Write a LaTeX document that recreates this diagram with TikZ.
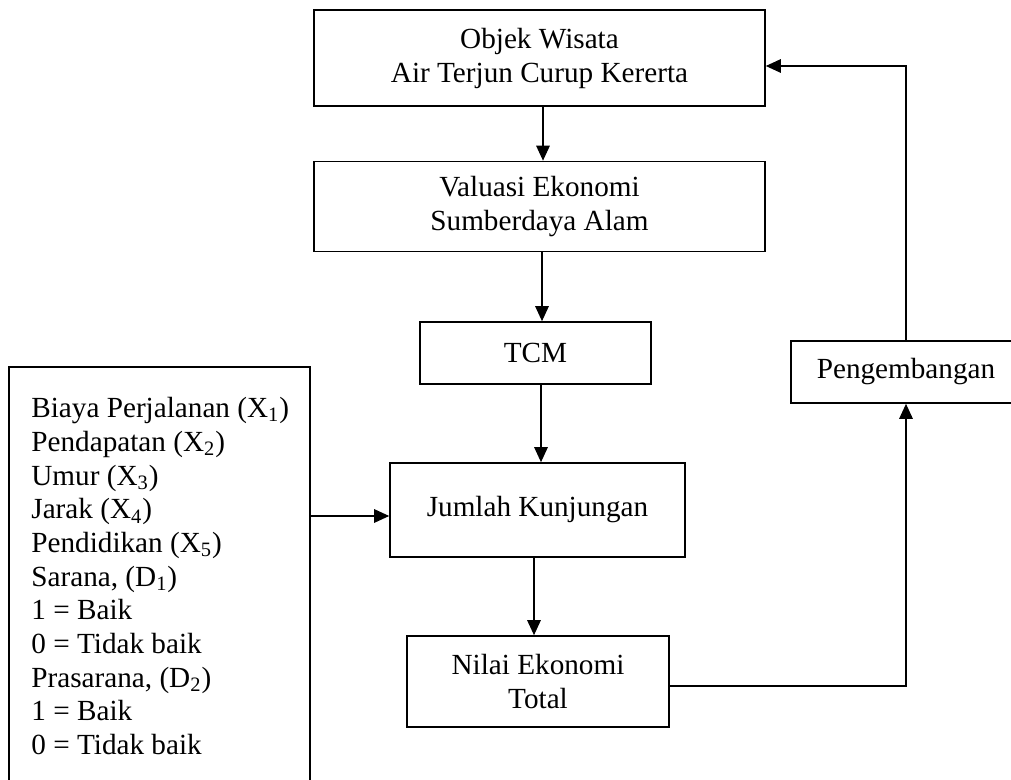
\documentclass[tikz,border=0pt]{standalone}
\usepackage{fontspec}
\setmainfont{Liberation Serif}
\usetikzlibrary{arrows.meta}

\begin{document}
\begin{tikzpicture}[x=0.5pt, y=-0.5pt]
\tikzstyle{box} = [draw, line width=0.85pt, align=center, inner sep=0pt, font=\fontsize{14.6}{17}\selectfont]
\tikzstyle{arrow} = [-{Triangle[length=7.5pt,width=6.8pt]}, line width=0.55pt]

\useasboundingbox (0,0) rectangle (1011,780);
\clip (0,0) rectangle (1011,780);

% Main flow
\node[box, minimum width=225.5pt, minimum height=48pt] (objek) at (539.5,58) {Objek Wisata\\Air Terjun Curup Kererta};
\node[box, minimum width=225.5pt, minimum height=45pt] (valuasi) at (539.5,206.5) {Valuasi Ekonomi\\Sumberdaya Alam};
\node[box, minimum width=115.5pt, minimum height=31pt] (tcm) at (535.5,353) {TCM};
\node[box, minimum width=147.5pt, minimum height=47pt] (jumlah) at (537.5,510) {Jumlah Kunjungan};
\node[box, minimum width=131pt, minimum height=45.5pt] (nilai) at (538,681.5) {Nilai Ekonomi\\Total};

% Feedback
\node[box, minimum width=115pt, minimum height=31pt] (peng) at (906,372) {Pengembangan};

% Variables
\node[box, minimum width=150.5pt, minimum height=226.5pt] (vars) at (159.5,593.5) {};
\node[anchor=north west, align=left, inner sep=0pt, font=\fontsize{14.6}{16.85}\selectfont] (varlist) at (31,397) {Biaya Perjalanan (X\textsubscript{1})\\
Pendapatan (X\textsubscript{2})\\
Umur (X\textsubscript{3})\\
Jarak (X\textsubscript{4})\\
Pendidikan (X\textsubscript{5})\\
Sarana, (D\textsubscript{1})\\
1 = Baik\\
0 = Tidak baik\\
Prasarana, (D\textsubscript{2})\\
1 = Baik\\
0 = Tidak baik};

% Arrows
\draw[arrow] ([xshift=1.75pt]objek.south) -- ([xshift=1.75pt]valuasi.north);
\draw[arrow] ([xshift=1.25pt]valuasi.south) -- ([xshift=1.25pt]valuasi.south |- tcm.north);
\draw[arrow] ([xshift=2.75pt]tcm.south) -- ([xshift=2.75pt]tcm.south |- jumlah.north);
\draw[arrow] ([xshift=-1.75pt]jumlah.south) -- ([xshift=-1.75pt]jumlah.south |- nilai.north);
\draw[arrow] ([yshift=-3pt]jumlah.west -| vars.east) -- ([yshift=-3pt]jumlah.west);
\draw[arrow] ([yshift=-2.25pt]nilai.east) -| (peng.south);
\draw[arrow] (peng.north) |- ([yshift=-4pt]objek.east);
\end{tikzpicture}
\end{document}
